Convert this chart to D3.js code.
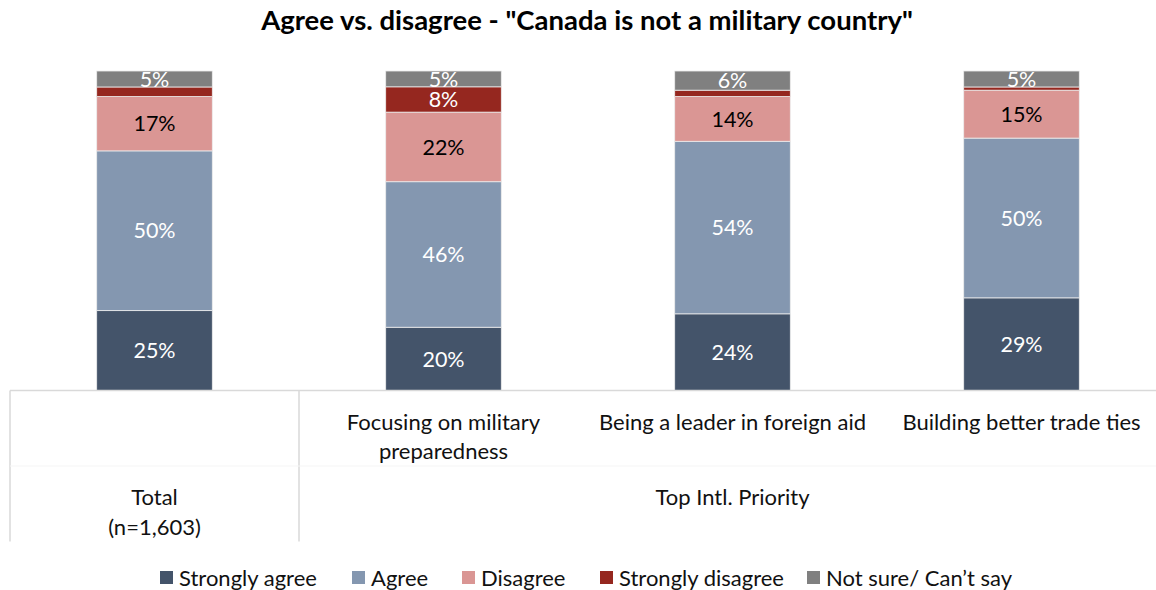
<!DOCTYPE html>
<html>
<head>
<meta charset="utf-8">
<script src="https://cdn.jsdelivr.net/npm/d3@7"></script>
<style>
  html, body { margin: 0; padding: 0; background: #fff; }
  svg { display: block; font-family: Lato, "Open Sans", sans-serif; }
</style>
</head>
<body>
<svg id="chart" width="1156" height="590"></svg>
<script>
// Survey responses by group, percent of respondents
const categories = ["Total", "Focusing on military preparedness", "Being a leader in foreign aid", "Building better trade ties"];
const stronglyAgree    = [25, 20, 24, 29];
const agree            = [50, 46, 54, 50];
const disagree         = [17, 22, 14, 15];
const stronglyDisagree = [3, 8, 2, 1];
const notSure          = [5, 5, 6, 5];

const seriesNames = ["Strongly agree", "Agree", "Disagree", "Strongly disagree", "Not sure/ Can\u2019t say"];
const seriesValues = [stronglyAgree, agree, disagree, stronglyDisagree, notSure];
const seriesColors = ["#44546a", "#8497b0", "#da9694", "#95271f", "#808080"];
const labelColors  = ["#ffffff", "#ffffff", "#000000", "#ffffff", "#ffffff"];

// Multi-level axis: sub-category lines and group names
const subLabelLines = [[], ["Focusing on military", "preparedness"], ["Being a leader in foreign aid"], ["Building better trade ties"]];
const groups = [
  { name: ["Total", "(n=1,603)"], from: 0, to: 0 },
  { name: ["Top Intl. Priority"], from: 1, to: 3 }
];

const title = "Agree vs. disagree - \"Canada is not a military country\"";

const svg = d3.select("#chart");
const plotTop = 71, plotBottom = 390.5;

const rows = categories.map((c, i) => {
  const r = { category: c };
  seriesNames.forEach((s, k) => { r[s] = seriesValues[k][i]; });
  return r;
});

// 100% stacked: each column normalised to its own total
const stack = d3.stack().keys(seriesNames).offset(d3.stackOffsetExpand);
const stacked = stack(rows);

const x = d3.scaleBand().domain(categories).range([10, 1166]).paddingInner(0.6).paddingOuter(0.3);
const y = d3.scaleLinear().domain([0, 1]).range([plotBottom, plotTop]);

// Title
svg.append("text")
  .attr("x", 587).attr("y", 30)
  .attr("text-anchor", "middle")
  .attr("font-weight", "bold")
  .attr("font-size", 27.5)
  .attr("fill", "#000")
  .text(title);

// Stacked bars
const layer = svg.append("g").selectAll("g")
  .data(stacked)
  .join("g")
  .attr("fill", (d, i) => seriesColors[i]);

layer.selectAll("rect")
  .data(d => d)
  .join("rect")
  .attr("x", d => x(d.data.category))
  .attr("width", x.bandwidth())
  .attr("y", d => y(d[1]))
  .attr("height", d => y(d[0]) - y(d[1]))
  .attr("stroke", "#ededed")
  .attr("stroke-width", 0.8);

// Value labels inside segments (thin slivers are left unlabelled)
stacked.forEach((s, k) => {
  svg.append("g").selectAll("text")
    .data(s.filter(d => d.data[s.key] >= 4))
    .join("text")
    .attr("x", d => x(d.data.category) + x.bandwidth() / 2)
    .attr("y", d => (y(d[0]) + y(d[1])) / 2)
    .attr("dy", "0.36em")
    .attr("text-anchor", "middle")
    .attr("font-size", 21.5)
    .attr("fill", labelColors[k])
    .text(d => d.data[s.key] + "%");
});

// Category axis (table style)
const axisColor = "#d9d9d9";
const step = x.step();
const axis = d3.axisBottom(x).tickSize(0).tickFormat("");
const axisG = svg.append("g").attr("transform", `translate(0,${plotBottom})`).call(axis);
axisG.select(".domain").attr("stroke", axisColor).attr("stroke-width", 1.5)
  .attr("d", `M10,0H1166`);

const bandStart = i => x(categories[i]) - x.paddingInner() * step / 2;
[0, 1].forEach(i => {
  svg.append("line")
    .attr("x1", bandStart(i)).attr("x2", bandStart(i))
    .attr("y1", plotBottom).attr("y2", 541.5)
    .attr("stroke", axisColor).attr("stroke-width", 1.5);
});
svg.append("line")
  .attr("x1", 10).attr("x2", 1166).attr("y1", 466).attr("y2", 466)
  .attr("stroke", "#f5f5f5").attr("stroke-width", 1);

// Sub-category labels
categories.forEach((c, i) => {
  const cx = x(c) + x.bandwidth() / 2;
  subLabelLines[i].forEach((line, j) => {
    svg.append("text")
      .attr("x", cx).attr("y", 422 + j * 29)
      .attr("dy", "0.36em")
      .attr("text-anchor", "middle")
      .attr("font-size", 22)
      .attr("fill", "#111")
      .text(line);
  });
});

// Group labels
groups.forEach(g => {
  const x0 = bandStart(g.from);
  const x1 = bandStart(g.to) + step;
  g.name.forEach((line, j) => {
    svg.append("text")
      .attr("x", (x0 + x1) / 2).attr("y", 497 + j * 30)
      .attr("dy", "0.36em")
      .attr("text-anchor", "middle")
      .attr("font-size", 22)
      .attr("fill", "#111")
      .text(line);
  });
});

// Legend
const legendX = [160, 352, 462, 600, 807];
const legend = svg.append("g");
seriesNames.forEach((s, i) => {
  legend.append("rect")
    .attr("x", legendX[i]).attr("y", 571)
    .attr("width", 13).attr("height", 13)
    .attr("fill", seriesColors[i]);
  legend.append("text")
    .attr("x", legendX[i] + 19).attr("y", 578)
    .attr("dy", "0.36em")
    .attr("font-size", 22)
    .attr("fill", "#111")
    .text(s);
});
</script>
</body>
</html>
